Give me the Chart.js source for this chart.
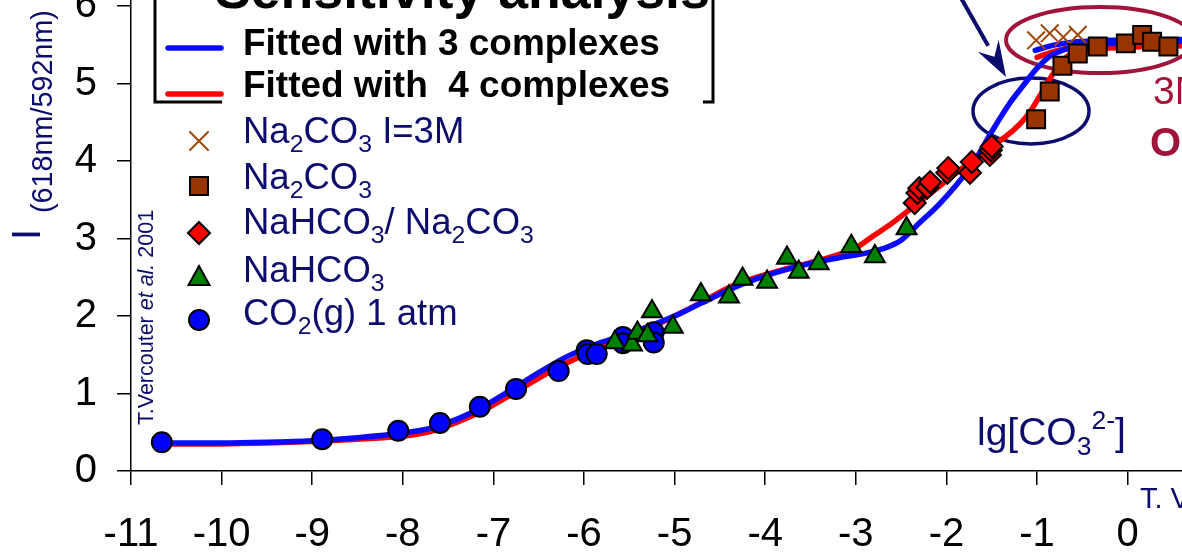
<!DOCTYPE html>
<html>
<head>
<meta charset="utf-8">
<script src="https://cdn.jsdelivr.net/npm/chart.js@4/dist/chart.umd.min.js"></script>
<style>
  html, body { margin: 0; padding: 0; background: #fff; }
  #wrap { width: 1182px; height: 554px; }
</style>
</head>
<body>
<div id="wrap"><canvas id="chart" width="1182" height="554"></canvas></div>
<script>
// Tick labels
const xTicks = [-11, -10, -9, -8, -7, -6, -5, -4, -3, -2, -1, 0];
const yTicks = [0, 1, 2, 3, 4, 5, 6];

const co2X = [-10.66, -8.89, -8.05, -7.59, -7.15, -6.75, -6.28, -5.97, -5.96, -5.86, -5.57, -5.57, -5.23, -5.23];
const co2Y = [0.37, 0.41, 0.52, 0.62, 0.83, 1.06, 1.29, 1.56, 1.51, 1.51, 1.73, 1.65, 1.79, 1.66];

const hco3X = [-5.66, -5.47, -5.41, -5.25, -5.30, -5.02, -4.71, -4.40, -4.25, -3.98, -3.76, -3.63, -3.41, -3.05, -2.79, -2.44];
const hco3Y = [1.66, 1.63, 1.78, 2.06, 1.75, 1.86, 2.28, 2.25, 2.48, 2.44, 2.75, 2.57, 2.68, 2.90, 2.77, 3.13];

const mixX = [-2.35, -2.32, -2.30, -2.21, -2.18, -1.99, -1.98, -1.74, -1.72, -1.52, -1.51, -1.50];
const mixY = [3.46, 3.59, 3.65, 3.66, 3.73, 3.85, 3.91, 3.85, 3.99, 4.08, 4.14, 4.19];

const co3X = [-1.01, -0.86, -0.72, -0.55, -0.33, -0.02, 0.16, 0.27, 0.45];
const co3Y = [4.54, 4.90, 5.23, 5.39, 5.48, 5.52, 5.63, 5.54, 5.48];

const co3HighX = [-1.01, -0.86, -0.71, -0.55];
const co3HighY = [5.56, 5.65, 5.60, 5.63];

// Fitted curves
const fit3X = [-10.66, -10.0, -9.5, -9.0, -8.5, -8.0, -7.7, -7.4, -7.1, -6.8, -6.5, -6.2, -5.9, -5.6, -5.3, -5.0, -4.7, -4.4, -4.1, -3.8, -3.5, -3.2, -2.9, -2.7, -2.5, -2.3, -2.1, -1.9, -1.7, -1.5, -1.3, -1.15, -1.0, -0.85, -0.7, -0.5, -0.2, 0.2, 0.6];
const fit3Y = [0.36, 0.36, 0.37, 0.39, 0.43, 0.49, 0.55, 0.67, 0.84, 1.05, 1.27, 1.47, 1.62, 1.74, 1.86, 2.00, 2.17, 2.34, 2.48, 2.59, 2.68, 2.75, 2.81, 2.87, 2.98, 3.20, 3.42, 3.68, 3.98, 4.38, 4.75, 4.98, 5.20, 5.36, 5.44, 5.49, 5.52, 5.54, 5.55];

const fit4X = [-10.66, -10.0, -9.5, -9.0, -8.5, -8.0, -7.7, -7.4, -7.1, -6.8, -6.5, -6.2, -5.9, -5.6, -5.3, -5.0, -4.7, -4.4, -4.1, -3.8, -3.5, -3.2, -3.0, -2.8, -2.6, -2.4, -2.2, -2.0, -1.8, -1.6, -1.4, -1.25, -1.1, -0.95, -0.8, -0.67, -0.5, -0.2, 0.2, 0.6];
const fit4Y = [0.35, 0.35, 0.36, 0.38, 0.41, 0.45, 0.51, 0.63, 0.79, 0.99, 1.20, 1.39, 1.55, 1.68, 1.83, 2.00, 2.18, 2.37, 2.50, 2.60, 2.69, 2.79, 2.88, 3.04, 3.20, 3.38, 3.56, 3.75, 3.93, 4.10, 4.27, 4.41, 4.60, 4.88, 5.17, 5.35, 5.43, 5.46, 5.48, 5.49];

const fit3HighX = [-1.02, -0.8, -0.56, -0.2, 0.6];
const fit3HighY = [5.43, 5.50, 5.54, 5.56, 5.57];
const fit4HighX = [-1.0, -0.8, -0.6, -0.2, 0.6];
const fit4HighY = [5.34, 5.42, 5.47, 5.50, 5.51];

const NAVY = '#0c0c6e';
const MAROON = '#a0143c';
const FONT = '"Liberation Sans", Arial, sans-serif';

function pts(xs, ys) {
    return xs.map((x, i) => ({ x: x, y: ys[i] }));
}

function lineSet(xs, ys, color) {
    return {
        data: pts(xs, ys),
        showLine: true,
        borderColor: color,
        borderWidth: 5.5,
        pointRadius: 0,
        cubicInterpolationMode: 'monotone',
        borderCapStyle: 'round',
        order: 10
    };
}

function markerSet(xs, ys, style, fill, radius, order) {
    return {
        data: pts(xs, ys),
        showLine: false,
        pointStyle: style,
        pointRadius: radius,
        pointBackgroundColor: fill,
        pointBorderColor: '#000',
        pointBorderWidth: 2,
        order: order
    };
}

/**
 * Draw text with sub- and superscripts
 * parts: [text, mode, italic] where mode 0 = normal, 1 = sub, 2 = sup
 */
function drawRich(ctx, x, y, parts, size, color, weight) {
    ctx.save();
    ctx.fillStyle = color;
    ctx.textBaseline = 'alphabetic';
    ctx.textAlign = 'left';
    let cx = x;
    parts.forEach(p => {
        const mode = p[1] || 0;
        const s = mode ? size * 0.68 : size;
        const italic = p[2] ? 'italic ' : '';
        ctx.font = italic + (weight || 'normal') + ' ' + s + 'px ' + FONT;
        let dy = 0;
        if (mode === 1) dy = size * 0.26;
        if (mode === 2) dy = -size * 0.4;
        ctx.fillText(p[0], cx, y + dy);
        cx += ctx.measureText(p[0]).width;
    });
    ctx.restore();
}

function fitSize(ctx, text, weight, width) {
    ctx.font = weight + ' 100px ' + FONT;
    return 100 * width / ctx.measureText(text).width;
}

function drawMarker(ctx, style, x, y) {
    ctx.save();
    ctx.lineWidth = 2;
    ctx.strokeStyle = '#000';
    ctx.beginPath();
    if (style === 'cross') {
        ctx.strokeStyle = '#a0460a';
        ctx.moveTo(x - 9, y - 9); ctx.lineTo(x + 9, y + 9);
        ctx.moveTo(x + 9, y - 9); ctx.lineTo(x - 9, y + 9);
        ctx.stroke();
    } else {
        if (style === 'square') {
            ctx.fillStyle = '#993300';
            ctx.rect(x - 9, y - 9, 18, 18);
        } else if (style === 'diamond') {
            ctx.fillStyle = '#ff0000';
            ctx.moveTo(x, y - 11); ctx.lineTo(x + 11, y); ctx.lineTo(x, y + 11); ctx.lineTo(x - 11, y);
            ctx.closePath();
        } else if (style === 'triangle') {
            ctx.fillStyle = '#008000';
            ctx.moveTo(x, y - 12); ctx.lineTo(x + 10.5, y + 7); ctx.lineTo(x - 10.5, y + 7);
            ctx.closePath();
        } else {
            ctx.fillStyle = '#0000ff';
            ctx.arc(x, y, 10, 0, Math.PI * 2);
        }
        ctx.fill();
        ctx.stroke();
    }
    ctx.restore();
}

const shapesPlugin = {
    id: 'shapes',
    beforeDatasetsDraw(chart) {
        const ctx = chart.ctx;
        ctx.save();
        // maroon ellipse round the I=3M plateau
        ctx.strokeStyle = MAROON;
        ctx.lineWidth = 4;
        ctx.beginPath();
        ctx.ellipse(1100, 40, 94, 33, 0, 0, Math.PI * 2);
        ctx.stroke();
        // navy ellipse round the deviating region
        ctx.strokeStyle = NAVY;
        ctx.lineWidth = 3.5;
        ctx.beginPath();
        ctx.ellipse(1031, 111, 58, 33, 0, 0, Math.PI * 2);
        ctx.stroke();
        ctx.restore();
    },
    afterDraw(chart) {
        const ctx = chart.ctx;
        ctx.save();

        // Title, only its lower part is visible
        let s = fitSize(ctx, 'Sensitivity analysis', 'bold', 495);
        ctx.font = 'bold ' + s + 'px ' + FONT;
        ctx.fillStyle = '#000';
        ctx.textAlign = 'left';
        ctx.textBaseline = 'alphabetic';
        ctx.fillText('Sensitivity analysis', 215, 8);

        // Legend frame
        ctx.strokeStyle = '#000';
        ctx.lineWidth = 3;
        ctx.beginPath();
        ctx.moveTo(155, 0); ctx.lineTo(155, 102); ctx.lineTo(222, 102);
        ctx.moveTo(713, 0); ctx.lineTo(713, 102); ctx.lineTo(703, 102);
        ctx.stroke();

        // Fit legend
        ctx.lineCap = 'round';
        ctx.lineWidth = 5.5;
        ctx.strokeStyle = '#0a0aff';
        ctx.beginPath(); ctx.moveTo(168, 48); ctx.lineTo(221, 48); ctx.stroke();
        ctx.strokeStyle = '#ff0000';
        ctx.beginPath(); ctx.moveTo(168, 94); ctx.lineTo(221, 94); ctx.stroke();

        s = fitSize(ctx, 'Fitted with 3 complexes', 'bold', 417);
        ctx.font = 'bold ' + s + 'px ' + FONT;
        ctx.fillStyle = '#000';
        ctx.fillText('Fitted with 3 complexes', 243, 55);
        ctx.fillText('Fitted with  4 complexes', 243, 97);

        // Marker legend
        const rows = [
            ['cross', 141, 143, [['Na'], ['2', 1], ['CO'], ['3', 1], [' I=3M']]],
            ['square', 186, 189, [['Na'], ['2', 1], ['CO'], ['3', 1]]],
            ['diamond', 233, 234, [['NaHCO'], ['3', 1], ['/ Na'], ['2', 1], ['CO'], ['3', 1]]],
            ['triangle', 278, 282, [['NaHCO'], ['3', 1]]],
            ['circle', 320, 325, [['CO'], ['2', 1], ['(g) 1 atm']]]
        ];
        rows.forEach(r => {
            drawMarker(ctx, r[0], 199, r[1]);
            drawRich(ctx, 243, r[2], r[3], 36.5, NAVY);
        });

        // Y axis title, rotated
        ctx.save();
        ctx.translate(40, 240);
        ctx.rotate(-Math.PI / 2);
        drawRich(ctx, 0, 0, [['I']], 40, NAVY);
        ctx.restore();
        ctx.save();
        ctx.translate(52, 213);
        ctx.rotate(-Math.PI / 2);
        s = fitSize(ctx, '(618nm/592nm)', 'normal', 203);
        drawRich(ctx, 0, 0, [['(618nm/592nm)']], s, NAVY);
        ctx.restore();

        // Credit, rotated
        ctx.save();
        ctx.translate(153, 425);
        ctx.rotate(-Math.PI / 2);
        drawRich(ctx, 0, 0, [['T.Vercouter '], ['et al.', 0, true], [' 2001']], 21.5, NAVY);
        ctx.restore();

        // X axis title
        drawRich(ctx, 977, 445, [['lg[CO'], ['3', 1], ['2-', 2], [']']], 39, NAVY);
        drawRich(ctx, 1140, 508, [['T. Vercouter']], 29, NAVY);

        // Right side notes (cut by the edge)
        drawRich(ctx, 1153, 104, [['3M']], 39, MAROON);
        drawRich(ctx, 1150, 156, [['Outer']], 40, MAROON, 'bold');

        // Arrow
        ctx.strokeStyle = NAVY;
        ctx.fillStyle = NAVY;
        ctx.lineWidth = 4;
        ctx.lineCap = 'butt';
        const ax0 = 961, ay0 = -2, ax1 = 1006, ay1 = 77;
        const ang = Math.atan2(ay1 - ay0, ax1 - ax0);
        const hl = 36, hw = 12;
        const bx = ax1 - hl * Math.cos(ang), by = ay1 - hl * Math.sin(ang);
        ctx.beginPath(); ctx.moveTo(ax0, ay0); ctx.lineTo(bx, by); ctx.stroke();
        ctx.beginPath();
        ctx.moveTo(ax1, ay1);
        ctx.lineTo(bx + hw * Math.sin(ang), by - hw * Math.cos(ang));
        ctx.lineTo(bx + 0.35 * hl * Math.cos(ang), by + 0.35 * hl * Math.sin(ang));
        ctx.lineTo(bx - hw * Math.sin(ang), by + hw * Math.cos(ang));
        ctx.closePath();
        ctx.fill();

        ctx.restore();
    }
};

// no label padding: the plot runs to the canvas edges like the original
function noPadding(s) {
    s.paddingTop = 0;
    s.paddingBottom = 0;
    s.paddingLeft = 0;
    s.paddingRight = 0;
}

const axisCommon = {
    grid: { display: true, drawOnChartArea: false, drawTicks: true, tickLength: 14, color: '#000', lineWidth: 1.5 },
    border: { display: true, color: '#000', width: 1.5 }
};

new Chart(document.getElementById('chart'), {
    type: 'scatter',
    data: {
        datasets: [
            lineSet(fit3X, fit3Y, '#0a0aff'),
            lineSet(fit4X, fit4Y, '#ff0000'),
            lineSet(fit3HighX, fit3HighY, '#0a0aff'),
            lineSet(fit4HighX, fit4HighY, '#ff0000'),
            markerSet(co2X, co2Y, 'circle', '#0000ff', 10, 5),
            markerSet(hco3X, hco3Y, 'triangle', '#008000', 11.5, 4),
            markerSet(mixX, mixY, 'rectRot', '#ff0000', 11, 3),
            {
                data: pts(co3HighX, co3HighY),
                showLine: false,
                pointStyle: 'crossRot',
                pointRadius: 12.5,
                pointBorderColor: '#a0460a',
                pointBorderWidth: 2,
                order: 2
            },
            markerSet(co3X, co3Y, 'rect', '#993300', 12.7, 1)
        ]
    },
    options: {
        responsive: false,
        devicePixelRatio: 1,
        animation: false,
        layout: { padding: 0, autoPadding: false },
        plugins: { legend: { display: false }, tooltip: { enabled: false } },
        scales: {
            x: {
                ...axisCommon,
                type: 'linear',
                min: -11,
                max: 0.6,
                afterBuildTicks: s => { s.ticks = xTicks.map(v => ({ value: v })); },
                afterFit: s => { s.height = 83; noPadding(s); },
                ticks: { color: '#000', padding: 26, maxRotation: 0, autoSkip: false, font: { family: FONT, size: 40 } }
            },
            y: {
                ...axisCommon,
                type: 'linear',
                min: 0,
                max: 6.08,
                afterBuildTicks: s => { s.ticks = yTicks.map(v => ({ value: v })); },
                afterFit: s => { s.width = 131; noPadding(s); },
                ticks: { color: '#000', padding: 20, font: { family: FONT, size: 40 } }
            }
        }
    },
    plugins: [shapesPlugin]
});
</script>
</body>
</html>
